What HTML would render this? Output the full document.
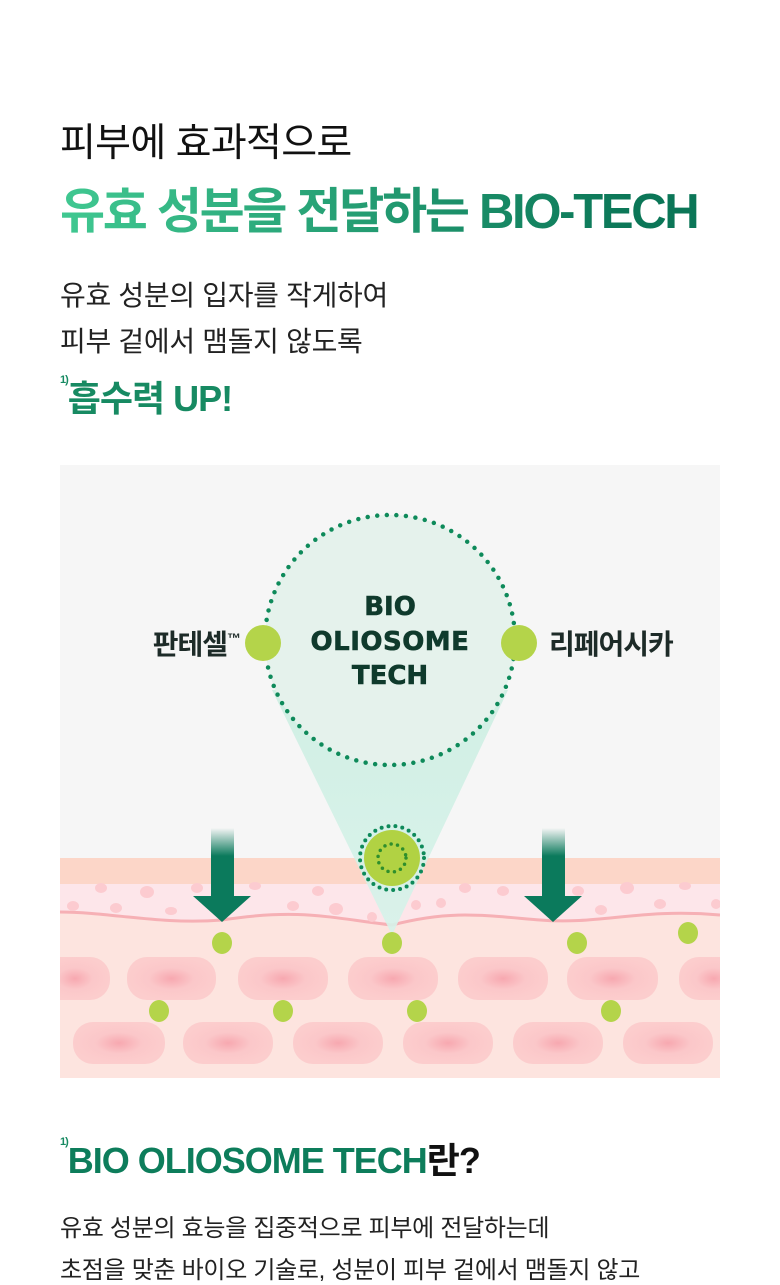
<!DOCTYPE html>
<html><head><meta charset="utf-8"><style>
html,body{margin:0;padding:0;background:#fff;width:780px;height:1280px;overflow:hidden;font-family:"Liberation Sans","Noto Sans CJK KR",sans-serif;}
.t{position:absolute;left:60px;white-space:nowrap;}
.h1{top:112px;font-size:39px;color:#111;letter-spacing:-0.7px;}
.h2{top:172px;font-size:49px;font-weight:bold;letter-spacing:-2.3px;background:linear-gradient(90deg,#40c891,#0b7657 90%);-webkit-background-clip:text;background-clip:text;color:transparent;}
.p{font-size:28px;color:#222;letter-spacing:-0.3px;}
.up{top:370px;font-size:36px;font-weight:bold;color:#178a62;letter-spacing:-1px;}
sup{font-size:11px;color:#178a62;vertical-align:top;position:relative;top:4px;}
.b{top:1132px;font-size:36px;font-weight:bold;color:#0d7d5b;letter-spacing:-1px;}
.q{font-size:24px;color:#222;letter-spacing:-0.3px;}
</style></head><body>
<div class="t h1">피부에 효과적으로</div>
<div class="t h2">유효 성분을 전달하는 BIO-TECH</div>
<div class="t p" style="top:274px">유효 성분의 입자를 작게하여</div>
<div class="t p" style="top:320px">피부 겉에서 맴돌지 않도록</div>
<div class="t up"><sup>1)</sup>흡수력 UP!</div>
<svg style="position:absolute;left:60px;top:465px" width="660" height="613" viewBox="60 465 660 613">
<defs>
<linearGradient id="ar" x1="0" y1="0" x2="0" y2="1"><stop offset="0" stop-color="#0b7a5c" stop-opacity="0"/><stop offset="0.4" stop-color="#0b7a5c"/></linearGradient>
<linearGradient id="cone" x1="0" y1="0" x2="0" y2="1"><stop offset="0" stop-color="#cdeee2"/><stop offset="1" stop-color="#d6f3ea"/></linearGradient>
<radialGradient id="cell"><stop offset="0" stop-color="#f7a8b0"/><stop offset="0.5" stop-color="#fbc7c9"/><stop offset="1" stop-color="#fccdcd"/></radialGradient>
</defs>
<rect x="60" y="465" width="660" height="613" fill="#f6f6f6"/>
<rect x="60" y="858" width="660" height="220" fill="#fde4df"/>
<rect x="60" y="858" width="660" height="26" fill="#fcd6c8"/>
<path d="M60 884 H720 V915 C640 908 600 925 540 920 C480 915 450 910 392 925 C330 918 300 908 222 920 C160 925 110 912 60 912 Z" fill="#fde6ea"/>
<path d="M60 912 C110 912 160 925 222 920 C300 908 330 918 392 925 C450 910 480 915 540 920 C600 925 640 908 720 915" stroke="#f6b0b5" stroke-width="3" fill="none"/>
<g fill="#fccbd0">
<ellipse cx="73" cy="906" rx="6" ry="5"/><ellipse cx="101" cy="888" rx="6" ry="5"/><ellipse cx="116" cy="908" rx="6" ry="5"/><ellipse cx="147" cy="892" rx="7" ry="6"/><ellipse cx="171" cy="911" rx="6" ry="4"/><ellipse cx="197" cy="888" rx="6" ry="5"/><ellipse cx="255" cy="886" rx="6" ry="4"/><ellipse cx="293" cy="906" rx="6" ry="5"/><ellipse cx="318" cy="891" rx="6" ry="5"/><ellipse cx="336" cy="909" rx="7" ry="6"/><ellipse cx="372" cy="917" rx="5" ry="5"/><ellipse cx="416" cy="905" rx="5" ry="5"/><ellipse cx="441" cy="903" rx="5" ry="5"/><ellipse cx="465" cy="888" rx="6" ry="5"/><ellipse cx="503" cy="891" rx="6" ry="5"/><ellipse cx="578" cy="891" rx="6" ry="5"/><ellipse cx="601" cy="910" rx="6" ry="5"/><ellipse cx="627" cy="888" rx="7" ry="6"/><ellipse cx="660" cy="904" rx="6" ry="5"/><ellipse cx="685" cy="886" rx="6" ry="4"/><ellipse cx="716" cy="904" rx="5" ry="5"/>
</g>
<g fill="url(#cell)">
<rect x="40" y="957" width="70" height="43" rx="20"/><rect x="127" y="957" width="89" height="43" rx="20"/><rect x="238" y="957" width="90" height="43" rx="20"/><rect x="348" y="957" width="90" height="43" rx="20"/><rect x="458" y="957" width="90" height="43" rx="20"/><rect x="567" y="957" width="91" height="43" rx="20"/><rect x="679" y="957" width="70" height="43" rx="20"/>
<rect x="73" y="1022" width="92" height="42" rx="20"/><rect x="183" y="1022" width="90" height="42" rx="20"/><rect x="293" y="1022" width="90" height="42" rx="20"/><rect x="403" y="1022" width="90" height="42" rx="20"/><rect x="513" y="1022" width="90" height="42" rx="20"/><rect x="623" y="1022" width="90" height="42" rx="20"/>
</g>
<path d="M272 690 L392 935 L508 690 Z" fill="url(#cone)" opacity="0.9"/>
<circle cx="390" cy="640" r="125" fill="#e5f2ec" stroke="#0e8a5a" stroke-width="4.5" stroke-dasharray="0 9.6" stroke-linecap="round"/>
<g fill="#b4d44a">
<circle cx="263" cy="643" r="18"/><circle cx="519" cy="643" r="18"/>
<ellipse cx="222" cy="943" rx="10" ry="11"/><ellipse cx="392" cy="943" rx="10" ry="11"/><ellipse cx="577" cy="943" rx="10" ry="11"/><ellipse cx="688" cy="933" rx="10" ry="11"/><ellipse cx="159" cy="1011" rx="10" ry="11"/><ellipse cx="283" cy="1011" rx="10" ry="11"/><ellipse cx="417" cy="1011" rx="10" ry="11"/><ellipse cx="611" cy="1011" rx="10" ry="11"/>
</g>
<circle cx="392" cy="858" r="28" fill="#b1d243"/>
<circle cx="392" cy="858" r="32" fill="none" stroke="#0e8a5a" stroke-width="4" stroke-dasharray="0 7" stroke-linecap="round"/>
<circle cx="392" cy="858" r="14" fill="none" stroke="#2f8f2c" stroke-width="3.5" stroke-dasharray="0 6.5" stroke-linecap="round"/>
<rect x="211" y="828" width="23" height="70" fill="url(#ar)"/>
<path d="M193 896 H251 L222 922 Z" fill="#0b7a5c"/>
<rect x="542" y="828" width="23" height="70" fill="url(#ar)"/>
<path d="M524 896 H582 L553 922 Z" fill="#0b7a5c"/>
<g font-family="DejaVu Sans, Liberation Sans, sans-serif" font-weight="bold" fill="#0f3a2c" text-anchor="middle" font-size="26" stroke="#0f3a2c" stroke-width="0.6">
<text x="390" y="615">BIO</text><text x="390" y="650" letter-spacing="0.5">OLIOSOME</text><text x="390" y="684">TECH</text>
</g>
<g font-family="Liberation Sans, Noto Sans CJK KR, sans-serif" font-weight="bold" fill="#1d2b28" font-size="28" letter-spacing="-1">
<text x="240" y="654" text-anchor="end">판테셀<tspan font-size="14" dy="-11">™</tspan></text>
<text x="549" y="654">리페어시카</text>
</g>
</svg>
<div class="t b"><sup>1)</sup>BIO OLIOSOME TECH<span style="color:#111">란?</span></div>
<div class="t q" style="top:1208px">유효 성분의 효능을 집중적으로 피부에 전달하는데</div>
<div class="t q" style="top:1250px">초점을 맞춘 바이오 기술로, 성분이 피부 겉에서 맴돌지 않고</div>
</body></html>
